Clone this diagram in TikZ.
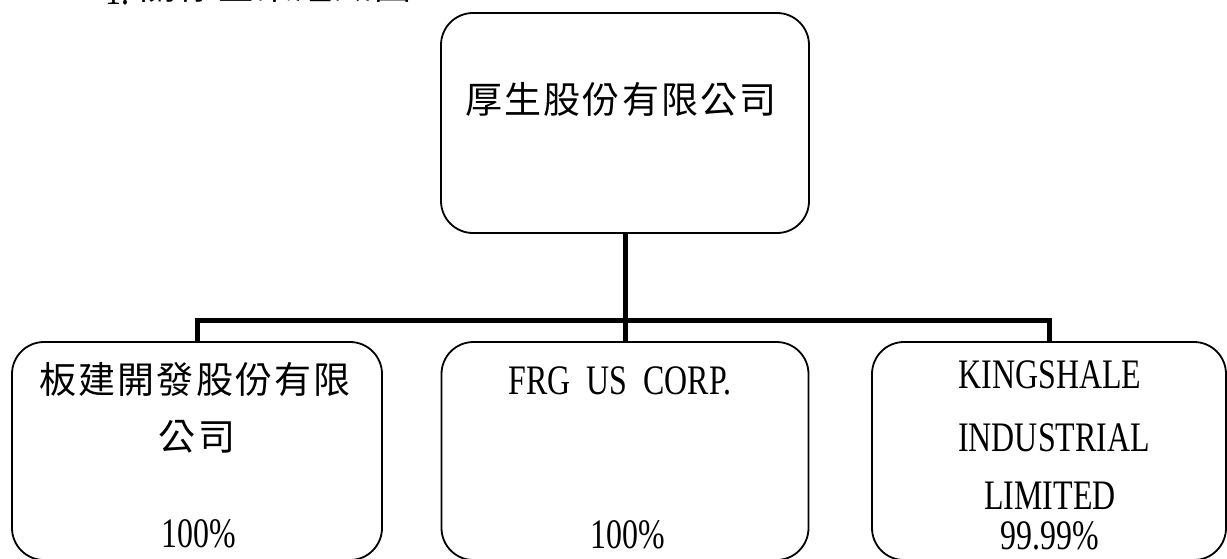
\documentclass[tikz,border=0pt]{standalone}
\usepackage{fontspec}
\setmainfont[FakeStretch=0.76, WordSpace=2]{Liberation Serif}
\newfontfamily\cjk[LetterSpace=6]{Noto Sans CJK TC}
\usetikzlibrary{positioning, calc}

\begin{document}
\begin{tikzpicture}[x=1pt, y=-1pt,
	box/.style={draw, line width=1.8pt, rounded corners=32pt, inner sep=0pt},
	cjktext/.style={inner sep=0pt, font=\cjk\fontsize{37}{40}\selectfont},
	lattext/.style={inner sep=0pt, font=\fontsize{42}{46}\selectfont},
	conn/.style={line width=5pt}]
	\useasboundingbox (0,0) rectangle (1227,558);
	\node [lattext, anchor=base west] (title) at (105,-1) {\raisebox{-5pt}{1.}\hspace{10pt}{\cjk\fontsize{37}{40}\selectfont 關係企業組織圖}};
	\node [box, minimum width=368pt, minimum height=220pt] (hs) at (625,123) {};
	\node [box, minimum width=370pt, minimum height=218pt] (pc) at (197,451) {};
	\node [box, minimum width=367pt, minimum height=218pt] (frg) at (625,451) {};
	\node [box, minimum width=354pt, minimum height=218pt] (ks) at (1049,451) {};
	\coordinate (bus) at (625,320);
	\draw [conn] (hs.south) -- (frg.north);
	\draw [conn] (pc.north) |- (bus) -| (ks.north);
	\node [cjktext] (hsname) at (621,100) {厚生股份有限公司};
	\node [cjktext] (pcname) at (195,380) {板建開發股份有限};
	\node [cjktext] (pcname2) at (197,437) {公司};
	\node [lattext] (pcpct) at (199,534) {100\%};
	\node [lattext] (frgname) at (620,381) {FRG US CORP.};
	\node [lattext] (frgpct) at (628,535) {100\%};
	\node [lattext] (ksname) at (1050,375) {KINGSHALE};
	\node [lattext] (ksname2) at (1054,438) {INDUSTRIAL};
	\node [lattext] (ksname3) at (1050,496) {LIMITED};
	\node [lattext] (kspct) at (1050,536) {99.99\%};
\end{tikzpicture}
\end{document}
